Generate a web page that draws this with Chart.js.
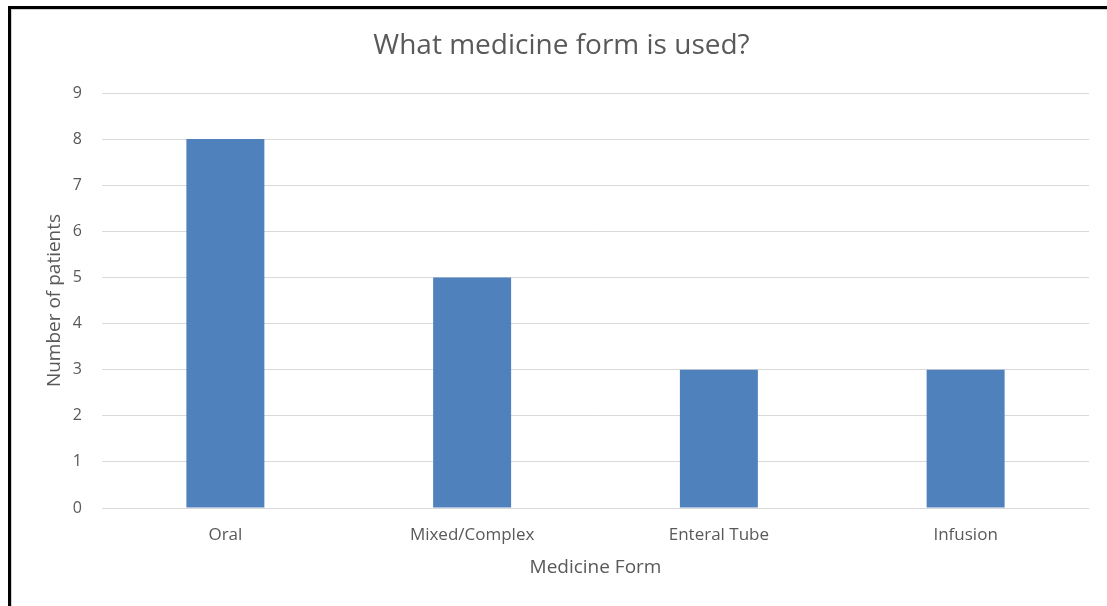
<!DOCTYPE html>
<html>
<head>
<meta charset="utf-8">
<script src="https://cdn.jsdelivr.net/npm/chart.js@4"></script>
<style>
html,body{margin:0;padding:0;background:#fff;}
#wrap{position:absolute;left:0;top:0;width:1107px;height:606px;}
#frame{position:absolute;left:8px;top:6px;right:0;bottom:0;border-top:3px solid #000;border-left:3px solid #000;box-shadow:inset 1px 1px 0 #d0d0d0;pointer-events:none;}
</style>
</head>
<body>
<div id="wrap"><canvas id="c" width="1107" height="606"></canvas><div id="frame"></div></div>
<script>
const categories = ["Oral", "Mixed/Complex", "Enteral Tube", "Infusion"];
const patients = [8, 5, 3, 3];
const yTicks = [0,1,2,3,4,5,6,7,8,9];

const FONT = "'Open Sans', 'Liberation Sans', sans-serif";
const GREY = "#595959";

new Chart(document.getElementById('c'), {
  type: 'bar',
  data: {
    labels: categories,
    datasets: [{
      label: 'Number of patients',
      data: patients,
      backgroundColor: '#4f81bd',
      borderWidth: 0,
      categoryPercentage: 1,
      barPercentage: 0.316
    }]
  },
  options: {
    responsive: false,
    animation: false,
    devicePixelRatio: 1,
    layout: { padding: { left: 34, right: 18, top: 0, bottom: 0 } },
    plugins: {
      legend: { display: false },
      tooltip: { enabled: false },
      title: {
        display: true,
        text: 'What medicine form is used?',
        color: GREY,
        font: { family: FONT, size: 28, weight: 'normal', lineHeight: 1.2 },
        padding: { top: 29, bottom: 30.4 }
      }
    },
    scales: {
      x: {
        grid: { display: false, drawTicks: false },
        border: { display: false },
        ticks: { color: GREY, font: { family: FONT, size: 17 }, padding: 17 },
        title: {
          display: true, text: 'Medicine Form', color: GREY,
          font: { family: FONT, size: 19, lineHeight: 1.2 },
          padding: { top: 0, bottom: 26.6 }
        },
        afterFit: (s) => { s.height = 98; }
      },
      y: {
        min: 0, max: 9,
        afterBuildTicks: (s) => { s.ticks = yTicks.map(v => ({ value: v })); },
        grid: { color: '#d9d9d9', lineWidth: 1, drawTicks: false },
        border: { display: false },
        ticks: { color: GREY, font: { family: FONT, size: 16 }, padding: 20 },
        title: {
          display: true, text: 'Number of patients', color: GREY,
          font: { family: FONT, size: 19, lineHeight: 1.2 },
          padding: { top: 9.6, bottom: 0 }
        },
        afterFit: (s) => { s.width = 68; }
      }
    }
  }
});
</script>
</body>
</html>
